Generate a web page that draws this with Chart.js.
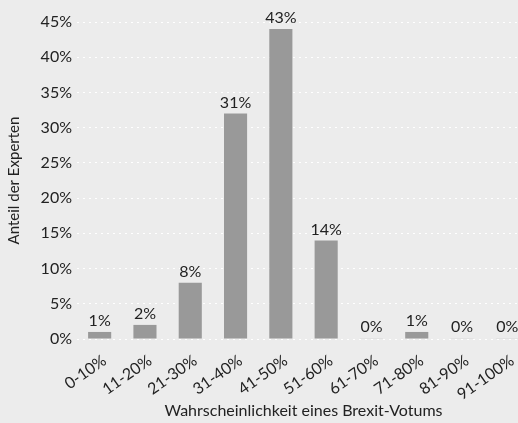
<!DOCTYPE html>
<html>
<head>
<meta charset="utf-8">
<script src="https://cdn.jsdelivr.net/npm/chart.js@4/dist/chart.umd.min.js"></script>
<style>
  html, body { margin: 0; padding: 0; background: #ececec; overflow: hidden; }
  #wrap { width: 530px; height: 423px; }
</style>
</head>
<body>
<div id="wrap"><canvas id="chart"></canvas></div>
<script>
// Kategorien und Werte
const categories = ["0-10%", "11-20%", "21-30%", "31-40%", "41-50%", "51-60%", "61-70%", "71-80%", "81-90%", "91-100%"];
const values = [1, 2, 8, 32, 44, 14, 0, 1, 0, 0];
const valueLabels = ["1%", "2%", "8%", "31%", "43%", "14%", "0%", "1%", "0%", "0%"];
const yTicks = [0, 5, 10, 15, 20, 25, 30, 35, 40, 45];

const font = "Lato, sans-serif";
const textColor = "#222";

// Beschriftung über den Balken
const barLabels = {
  id: "barLabels",
  afterDatasetsDraw(chart) {
    const ctx = chart.ctx;
    const meta = chart.getDatasetMeta(0);
    ctx.save();
    ctx.font = "16px " + font;
    ctx.fillStyle = textColor;
    ctx.textAlign = "center";
    ctx.textBaseline = "bottom";
    meta.data.forEach((bar, i) => {
      ctx.fillText(valueLabels[i], bar.x, bar.y - 3);
    });
    ctx.restore();
  }
};

new Chart(document.getElementById("chart"), {
  type: "bar",
  data: {
    labels: categories,
    datasets: [{
      data: values,
      backgroundColor: c => values[c.dataIndex] === 0 ? "#d9d9d9" : "#999999",
      barPercentage: 0.51,
      categoryPercentage: 1,
      minBarLength: 1
    }]
  },
  options: {
    responsive: true,
    maintainAspectRatio: false,
    animation: false,
    layout: { padding: { top: 22, right: 0, left: 0, bottom: 0 } },
    plugins: { legend: { display: false }, tooltip: { enabled: false } },
    scales: {
      x: {
        grid: { display: false },
        border: { display: false },
        ticks: {
          color: textColor,
          font: { family: font, size: 16 },
          minRotation: 35,
          maxRotation: 35,
          padding: 4,
          labelOffset: 5
        },
        title: {
          display: true,
          text: "Wahrscheinlichkeit eines Brexit-Votums",
          color: textColor,
          font: { family: font, size: 16 },
          padding: { top: 4, bottom: 3 }
        },
        afterFit(scale) { scale.height = 84; }
      },
      y: {
        min: 0,
        max: 45,
        afterBuildTicks(scale) { scale.ticks = yTicks.map(v => ({ value: v })); },
        grid: {
          color: "#ffffff",
          lineWidth: 1,
          drawTicks: false
        },
        border: { display: false, dash: [2, 4] },
        ticks: {
          color: textColor,
          font: { family: font, size: 16 },
          padding: 5,
          callback: v => v + "%"
        },
        title: {
          display: true,
          text: "Anteil der Experten",
          color: textColor,
          font: { family: font, size: 15 },
          padding: { top: 5, bottom: 0 }
        },
        afterFit(scale) { scale.width = 77; }
      }
    }
  },
  plugins: [barLabels]
});
</script>
</body>
</html>
